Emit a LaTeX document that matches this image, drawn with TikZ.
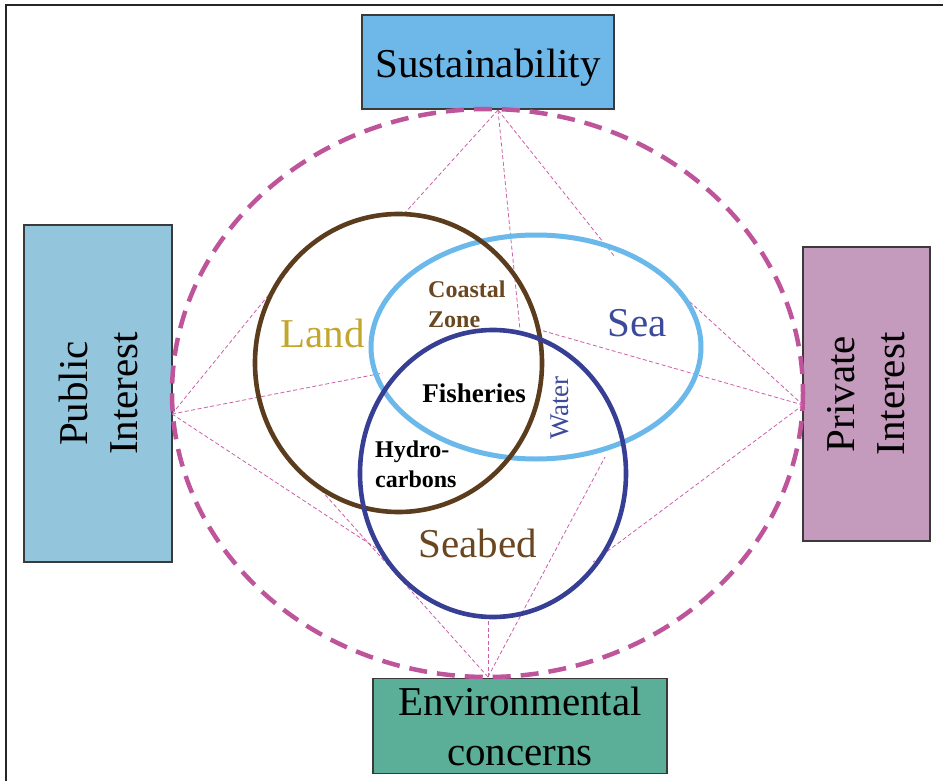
\documentclass[tikz,border=0pt]{standalone}
\usepackage{fontspec}
\setmainfont{Liberation Serif}
\definecolor{sustfill}{HTML}{6DB7E9}
\definecolor{pubfill}{HTML}{93C5DD}
\definecolor{privfill}{HTML}{C49ABD}
\definecolor{envfill}{HTML}{5BAF98}
\definecolor{boxline}{HTML}{3A3A3A}
\definecolor{magdash}{HTML}{BE559B}
\definecolor{magline}{HTML}{CC5FA8}
\definecolor{landring}{HTML}{5B3C1C}
\definecolor{searing}{HTML}{6BB8EA}
\definecolor{bedring}{HTML}{363F94}
\definecolor{landtext}{HTML}{C2A72E}
\definecolor{seatext}{HTML}{3C4A9C}
\definecolor{bedtext}{HTML}{6A4720}
\newcommand{\myBig}{\fontsize{41}{50}\selectfont}
\newcommand{\mySmall}{\bfseries\fontsize{24}{29.5}\selectfont}
\begin{document}
\begin{tikzpicture}[x=1pt,y=-1pt,
  box/.style={draw=boxline, line width=1.2pt, inner sep=0pt, align=center, font=\myBig},
  link/.style={draw=magline, line width=0.8pt, dash pattern=on 4pt off 2.5pt},
  bigdash/.style={draw=magdash, line width=4.5pt, dash pattern=on 18pt off 10pt},
  ring/.style={line width=4.6pt},
  biglabel/.style={font=\myBig, inner sep=0pt, anchor=base},
  smalllabel/.style={font=\mySmall, inner sep=0pt, align=left, anchor=base west}]
\useasboundingbox (0,0) rectangle (943,781);
\fill[white] (0,0) rectangle (943,781);
% frame
\draw[line width=2pt, draw=black!85] (6,781) -- (6,5.5) -- (943,5.5);
% boxes
\node[box, fill=sustfill, minimum width=252pt, minimum height=94pt, text height=32pt, text depth=0pt] (sust) at (488,62) {Sustainability};
\node[box, fill=pubfill, minimum width=337pt, minimum height=148pt, rotate=90] (pub) at (98,393.5) {Public\\Interest};
\node[box, fill=privfill, minimum width=294pt, minimum height=127pt, rotate=90] (priv) at (866.5,394) {Private\\Interest};
\node[box, fill=envfill, minimum width=294pt, minimum height=95pt] (env) at (520,726) {Environmental\\concerns};
% big dashed ellipse
\draw[bigdash] (487.5,393) ellipse [x radius=315.5, y radius=284];
% vertices and end points
\coordinate (T) at (498,110);
\coordinate (L) at (172,414);
\coordinate (R) at (803,405);
\coordinate (B) at (488,677);
\coordinate (t1) at (403,215);
\coordinate (t2) at (520,330);
\coordinate (t3) at (615,257);
\coordinate (l1) at (297,260);
\coordinate (l2) at (383,373);
\coordinate (l3) at (382,552);
\coordinate (r1) at (690,302);
\coordinate (r2) at (540,330);
\coordinate (r3) at (593,562);
\coordinate (b1) at (312,480);
\coordinate (b2) at (488,615);
\coordinate (b3) at (605,457);
\foreach \v/\a/\b/\c in {T/t1/t2/t3, L/l1/l2/l3, R/r1/r2/r3, B/b1/b2/b3}{
  \draw[link] (\v) -- (\a);
  \draw[link] (\v) -- (\b);
  \draw[link] (\v) -- (\c);
}
% rings
\draw[ring, line width=5pt, draw=searing] (536,347) ellipse [x radius=165, y radius=112];
\draw[ring, draw=landring] (398.5,363) ellipse [x radius=143.5, y radius=149];
\draw[ring, draw=bedring] (493,473.5) ellipse [x radius=133, y radius=143.5];
% labels
\node[biglabel, text=landtext] (land) at (322.5,347) {Land};
\node[biglabel, text=seatext] (sea) at (637.5,336) {Sea};
\node[biglabel, text=bedtext] (seabed) at (477.5,557) {Seabed};
\node[smalllabel, text=bedtext] (coastal) at (428,327) {Coastal\\Zone};
\node[smalllabel] (hydro) at (375,487) {Hydro-\\carbons};
\node[font=\bfseries\fontsize{27}{32}\selectfont, inner sep=0pt, anchor=base] (fish) at (474,402) {Fisheries};
\node[font=\fontsize{27}{32}\selectfont, text=seatext, inner sep=0pt, rotate=90] (water) at (560,408) {Water};
\end{tikzpicture}
\end{document}
